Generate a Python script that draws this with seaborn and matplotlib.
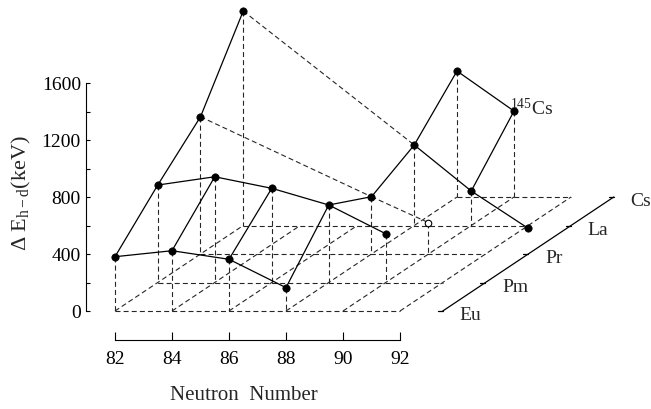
import numpy as np
import pandas as pd
import matplotlib
matplotlib.use('Agg')
import matplotlib.pyplot as plt
import seaborn as sns

# neutron numbers on the front axis, isotope chains along the depth axis
neutrons = [82, 84, 86, 88, 90, 92]
elements = ['Eu', 'Pm', 'Pr', 'La', 'Cs']

# Delta E_h-d in keV (nan = no value)
nan = np.nan
de_eu = [381, 423, 363, 164, nan, nan]
de_pm = [684, 742, 661, 544, 342, nan]
de_pr = [963, nan, nan, 402, 220, nan]
de_la = [1505, nan, nan, 565, 242, -20]
de_cs = [nan, nan, nan, 884, 603, nan]
open_points = [('Pr', 90)]

# first neutron number of the floor grid for each chain
floor_start = [82, 82, 82, 82, 88]

yticks = [0, 400, 800, 1200, 1600]
yminor = [200, 600, 1000, 1400]

# oblique projection: one step in depth = 1.5 neutrons right, 200 keV up
DN, DE = 1.5, 200


def proj(n, d, e):
    return n + DN * d, e + DE * d


rows = []
for d, (el, vals) in enumerate(zip(elements, [de_eu, de_pm, de_pr, de_la, de_cs])):
    for n, v in zip(neutrons, vals):
        if not np.isnan(v):
            rows.append(dict(element=el, depth=d, N=n, dE=v,
                             filled=(el, n) not in open_points))
df = pd.DataFrame(rows)
df['x'] = df['N'] + DN * df['depth']
df['y'] = df['dE'] + DE * df['depth']

sns.set_theme(style='white')
plt.rcParams['font.family'] = ['Liberation Serif', 'DejaVu Serif']
plt.rcParams['mathtext.fontset'] = 'custom'
plt.rcParams['mathtext.rm'] = 'Liberation Serif'
plt.rcParams['mathtext.it'] = 'Liberation Serif:italic'

fig = plt.figure(figsize=(6.51, 4.09), dpi=100)
ax = fig.add_axes([0, 0, 1, 1])
ax.set_xlim(77.965, 100.807)
ax.set_ylim(-687.7, 2182.5)

dash = dict(color='0.15', lw=0.8, dashes=(4.5, 2.8), zorder=1)
solid = dict(color='black', lw=0.9, zorder=2)

# floor grid
for d, n0 in enumerate(floor_start):
    x0, y0 = proj(n0, d, 0)
    x1, y1 = proj(neutrons[-1], d, 0)
    ax.plot([x0, x1], [y0, y1], **dash)
for n in neutrons:
    dmax = max(d for d, n0 in enumerate(floor_start) if n0 <= n)
    x0, y0 = proj(n, 0, 0)
    x1, y1 = proj(n, dmax, 0)
    ax.plot([x0, x1], [y0, y1], **dash)

# drop lines from each point to the floor
for _, r in df.iterrows():
    ax.plot([r.x, r.x], [r.y, DE * r.depth], **dash)

# lines along each chain
for el in elements:
    sub = df[df.element == el].sort_values('N')
    for a, b in zip(sub.itertuples(), sub.iloc[1:].itertuples()):
        style = solid if (a.filled and b.filled and b.N - a.N == 2) else dash
        ax.plot([a.x, b.x], [a.y, b.y], **style)

# lines across chains at fixed neutron number
for n in neutrons:
    sub = df[df.N == n].sort_values('depth')
    for a, b in zip(sub.itertuples(), sub.iloc[1:].itertuples()):
        if a.filled and b.filled and b.depth - a.depth == 1:
            ax.plot([a.x, b.x], [a.y, b.y], **solid)

sns.scatterplot(data=df[df.filled], x='x', y='y', color='black', s=28,
                edgecolor='black', linewidth=0.5, zorder=3, ax=ax)
sns.scatterplot(data=df[~df.filled], x='x', y='y', color='white', s=22,
                edgecolor='black', linewidth=0.8, zorder=3, ax=ax)

# depth axis with element labels
axis_pts = [proj(neutrons[-1] + DN, d, 0) for d in range(len(elements))]
ax.plot([axis_pts[0][0], axis_pts[-1][0]], [axis_pts[0][1], axis_pts[-1][1]],
        color='black', lw=0.9)
for (x, y), el in zip(axis_pts, elements):
    ax.plot([x - 0.18, x], [y, y], color='black', lw=0.9)
    ax.annotate(el, (x, y), xytext=(12, -6.5), textcoords='offset points',
                ha='left', va='baseline', fontsize=14)

# isotope label
cs90 = df[(df.element == 'Cs') & (df.N == 90)].iloc[0]
ax.annotate('$^{145}$Cs', (cs90.x, cs90.y), xytext=(-3, -3),
            textcoords='offset points', ha='left', va='baseline', fontsize=14)

# axes
ax.spines[['top', 'right']].set_visible(False)
ax.spines['left'].set_position(('data', 81.0))
ax.spines['left'].set_bounds(0, 1600)
ax.spines['bottom'].set_position(('data', -200))
ax.spines['bottom'].set_bounds(82, 92)
for s in ['left', 'bottom']:
    ax.spines[s].set_color('black')
    ax.spines[s].set_linewidth(0.8)
ax.set_xticks(neutrons)
ax.set_yticks(yticks)
ax.set_yticks(yminor, minor=True)
ax.tick_params(axis='y', which='both', direction='in', length=3, width=0.8,
               pad=4, labelsize=14, left=True, colors='black')
ax.tick_params(axis='x', direction='in', length=5.5, width=0.8, pad=8,
               labelsize=14, bottom=True, colors='black')

ax.set_xlabel('Neutron  Number', fontsize=15)
ax.xaxis.label.set(va='center')
ax.xaxis.set_label_coords(244 / 651, 1 - 396 / 409)
ax.set_ylabel('Δ E$_{\\rm h-d}$(keV)', fontsize=16)
ax.yaxis.label.set(va='center', ha='center', rotation_mode='default')
ax.yaxis.set_label_coords(21 / 651, 1 - 193 / 409)

fig.savefig('out.png', dpi=100)
